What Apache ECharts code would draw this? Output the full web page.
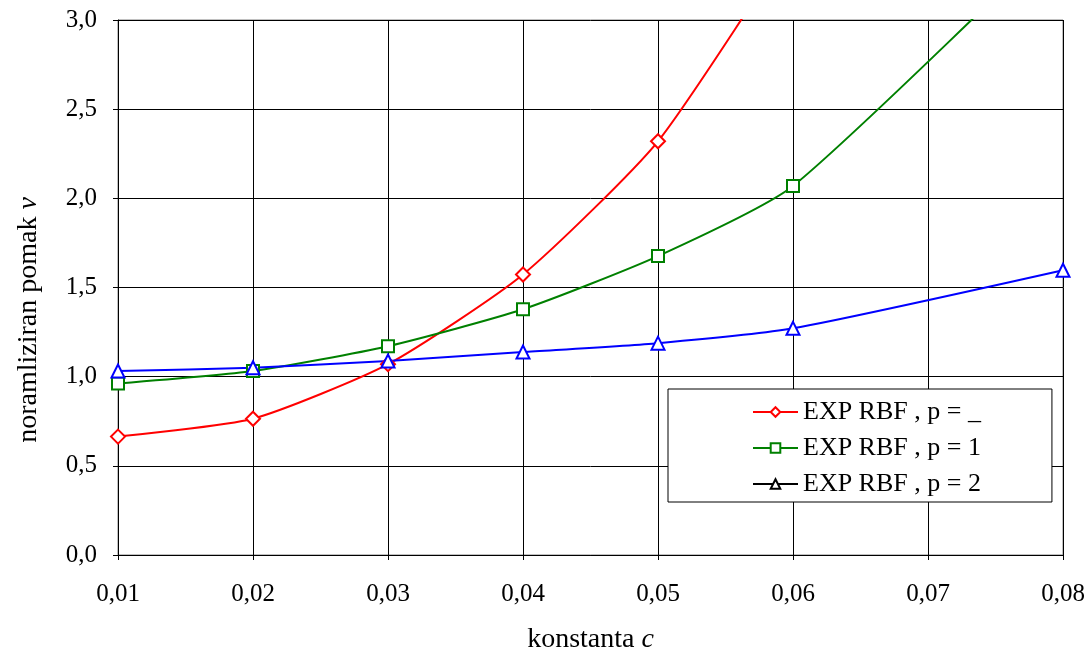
<!DOCTYPE html>
<html>
<head>
<meta charset="utf-8">
<script src="https://cdn.jsdelivr.net/npm/echarts@6/dist/echarts.min.js"></script>
<style>html,body{margin:0;padding:0;background:#fff;}#c{width:1091px;height:659px;}</style>
</head>
<body>
<div id="c"></div>
<script>
var seriesNames = ['EXP RBF , p = _', 'EXP RBF , p = 1', 'EXP RBF , p = 2'];
var redX = [0.01, 0.02, 0.03, 0.04, 0.05, 0.06];
var redY = [0.664, 0.764, 1.07, 1.573, 2.32, 3.45];
var greenX = [0.01, 0.02, 0.03, 0.04, 0.05, 0.06, 0.08];
var greenY = [0.962, 1.032, 1.171, 1.378, 1.676, 2.069, 3.5];
var blueX = [0.01, 0.02, 0.03, 0.04, 0.05, 0.06, 0.08];
var blueY = [1.032, 1.05, 1.088, 1.138, 1.188, 1.271, 1.597];

function pairs(xs, ys) { return xs.map(function (x, i) { return [x, ys[i]]; }); }

var font = '"Liberation Serif", "Times New Roman", serif';
var chart = echarts.init(document.getElementById('c'));
function mk(name, color, symbol, size, xs, ys) {
  return {
    name: name, type: 'line', data: pairs(xs, ys),
    smooth: 0.2, clip: true,
    symbol: symbol, symbolSize: size,
    lineStyle: { color: color, width: 2 },
    itemStyle: { color: color, borderColor: color, borderWidth: 2 },
    emphasis: { disabled: true }
  };
}
chart.setOption({
  animation: false,
  textStyle: { fontFamily: font },
  grid: { left: 118, right: 28, top: 20, bottom: 101, show: true, borderColor: '#808080', borderWidth: 1 },
  legend: {
    orient: 'vertical', left: 668, top: 389,
    padding: [10, 71, 5, 84],
    backgroundColor: '#fff', borderColor: '#000', borderWidth: 1,
    itemWidth: 45, itemHeight: 12, itemGap: 10,
    textStyle: { fontFamily: font, fontSize: 26, color: '#000', lineHeight: 26 },
    data: [
      { name: seriesNames[0] },
      { name: seriesNames[1] },
      { name: seriesNames[2], itemStyle: { color: '#000', borderColor: '#000' }, lineStyle: { color: '#000' } }
    ]
  },
  graphic: [{
    type: 'text', x: 29, y: 320, rotation: Math.PI / 2,
    style: {
      text: '{n|noramliziran pomak }{i|v}', align: 'center', verticalAlign: 'middle',
      rich: { n: { fontFamily: font, fontSize: 28, fill: '#000' }, i: { fontFamily: font, fontSize: 28, fontStyle: 'italic', fill: '#000' } }
    }
  }],
  xAxis: {
    type: 'value', min: 0.01, max: 0.08, interval: 0.01,
    name: '{n|konstanta }{i|c}', nameLocation: 'middle', nameGap: 71,
    nameTextStyle: { rich: { n: { fontFamily: font, fontSize: 28, color: '#000' }, i: { fontFamily: font, fontSize: 28, fontStyle: 'italic', color: '#000' } } },
    axisLine: { show: true, lineStyle: { color: '#000', width: 1 } },
    axisTick: { show: true, length: 5, lineStyle: { color: '#000' } },
    axisLabel: { fontFamily: font, fontSize: 25, color: '#000', margin: 27,
      formatter: function (v) { return v.toFixed(2).replace('.', ','); } },
    splitLine: { show: true, lineStyle: { color: '#000', width: 1 } }
  },
  yAxis: {
    type: 'value', min: 0, max: 3, interval: 0.5,
    axisLine: { show: true, lineStyle: { color: '#000', width: 1 } },
    axisTick: { show: true, length: 5, lineStyle: { color: '#000' } },
    axisLabel: { fontFamily: font, fontSize: 25, color: '#000', margin: 21,
      formatter: function (v) { return v.toFixed(1).replace('.', ','); } },
    splitLine: { show: true, lineStyle: { color: '#000', width: 1 } }
  },
  series: [
    mk(seriesNames[0], '#ff0000', 'emptyDiamond', 14, redX, redY),
    mk(seriesNames[1], '#008000', 'emptyRect', 12, greenX, greenY),
    mk(seriesNames[2], '#0000ff', 'emptyTriangle', 13, blueX, blueY)
  ]
});
</script>
</body>
</html>
